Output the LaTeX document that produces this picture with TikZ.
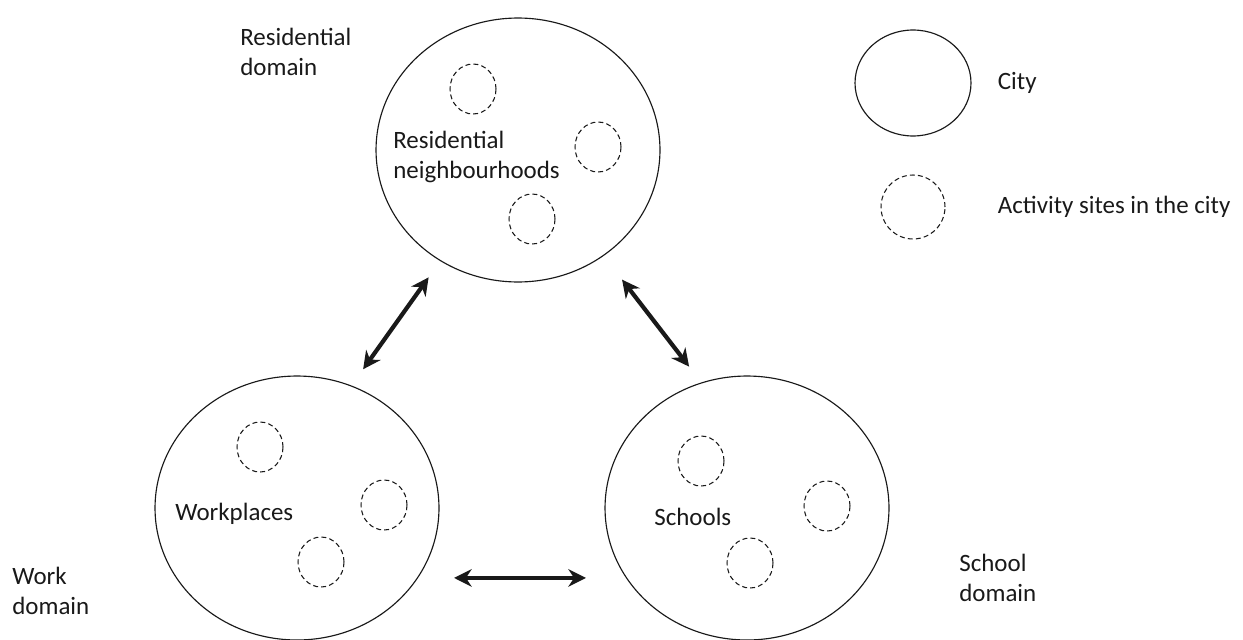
\documentclass[tikz,border=0pt]{standalone}
\usepackage{fontspec}
\setmainfont{Carlito}
\usetikzlibrary{shapes.geometric}
\usetikzlibrary{positioning}
\usetikzlibrary{arrows.meta}
\tikzstyle{city} = [ellipse, minimum width=5.68cm, minimum height=5.28cm, inner sep=0pt, draw=black!90, line width=0.65pt]
\tikzstyle{site} = [ellipse, minimum width=0.92cm, minimum height=1cm, inner sep=0pt, draw=black!90, line width=0.6pt, dash pattern=on 2.8pt off 1.8pt]
\tikzstyle{txt} = [anchor=west, align=left, inner sep=0pt, text=black!90, font=\fontsize{14.2}{17}\selectfont]
\tikzstyle{arrow} = [line width=2.4pt, <->, >={Stealth[length=10pt,width=10pt]}, draw=black!90]

\begin{document}
\begin{tikzpicture}[x=0.02cm, y=-0.02cm]
    \useasboundingbox (0,0) rectangle (1243,639);
        % the three domains
        \node (res) [city] at (518,150) {};
        \node (work) [city] at (297,508) {};
        \node (school) [city] at (747,508) {};

        \node (resSiteA) [site] at (473,89) {};
        \node (resSiteB) [site] at (598,147) {};
        \node (resSiteC) [site] at (532,219) {};
        \node (workSiteA) [site] at (260,447) {};
        \node (workSiteB) [site] at (384,505) {};
        \node (workSiteC) [site] at (321,562) {};
        \node (schoolSiteA) [site] at (701,461) {};
        \node (schoolSiteB) [site] at (827,506) {};
        \node (schoolSiteC) [site] at (750,563) {};

        \node (resText) [txt] at (393,157) {Residential\\neighbourhoods};
        \node (workText) [txt] at (175,514) {Workplaces};
        \node (schoolText) [txt] at (654,517) {Schools};

        \node (resDomain) [txt] at (240,52) {Residential\\domain};
        \node (workDomain) [txt] at (12,591) {Work\\domain};
        \node (schoolDomain) [txt] at (959,578) {School\\domain};

        % legend
        \node (legCity) [city, minimum width=2.32cm, minimum height=2.12cm] at (913,83) {};
        \node (legSite) [site, minimum width=1.28cm, minimum height=1.28cm] at (913,207) {};
        \node (legCityText) [txt, right=0.52cm of legCity] {City};
        \node (legSiteText) [txt, right=1.04cm of legSite] {Activity sites in the city};

        \draw [arrow, shorten <=0.4cm, shorten >=0.4cm] (res.235) -- (work.66);
        \draw [arrow, shorten <=0.6cm, shorten >=0.4cm] (res.309) -- (school.110);
        \draw [arrow, shorten <=0.72cm, shorten >=0.8cm] (work.330) -- (school.210);
    \end{tikzpicture}
\end{document}
